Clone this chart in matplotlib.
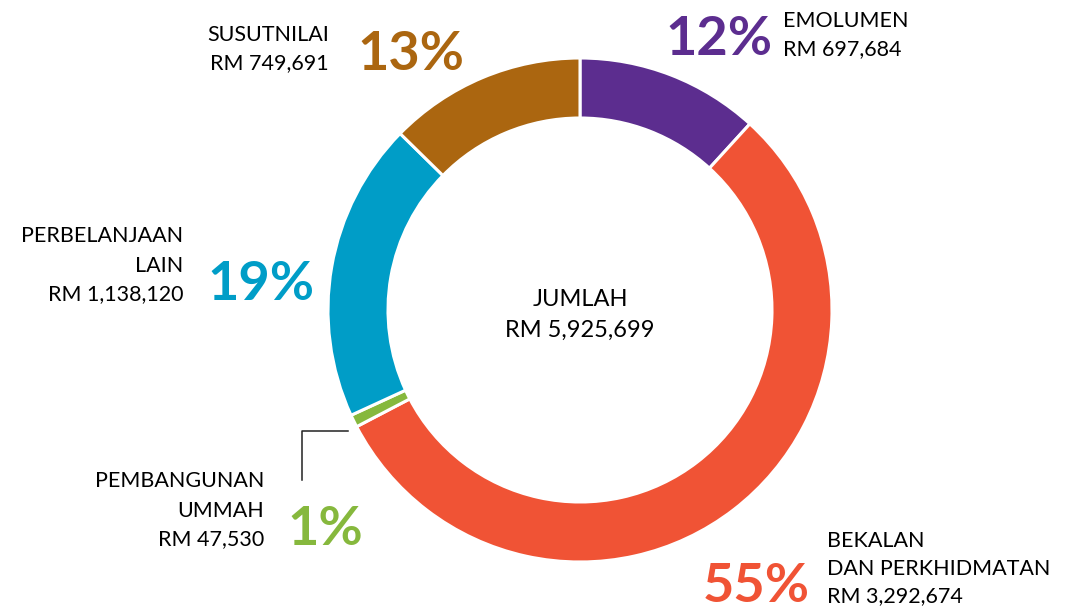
import matplotlib.pyplot as plt

plt.rcParams['font.family'] = ['Lato', 'DejaVu Sans']

names = ['EMOLUMEN', 'BEKALAN\nDAN PERKHIDMATAN', 'PEMBANGUNAN\nUMMAH',
         'PERBELANJAAN\nLAIN', 'SUSUTNILAI']
values = [697684, 3292674, 47530, 1138120, 749691]
pcts = ['12%', '55%', '1%', '19%', '13%']
colors = ['#5C2D8F', '#F05335', '#86B83D', '#009DC7', '#AB6610']
total = sum(values)

W, H = 1065, 611
fig = plt.figure(figsize=(W / 100, H / 100), dpi=100)
ax = fig.add_axes([0, 0, 1, 1])

# work in pixel coordinates, y pointing down
ax.set_xlim(0, W)
ax.set_ylim(H, 0)
ax.set_aspect('equal')

# y is flipped, so startangle -90 / counterclock=True runs clockwise from the top
ax.pie(values, colors=colors, center=(580, 310), radius=252,
       startangle=-90, counterclock=True, frame=True,
       wedgeprops=dict(width=60, edgecolor='white', linewidth=2.2))
ax.set_xlim(0, W)
ax.set_ylim(H, 0)
ax.axis('off')

lab = dict(fontsize=15.5, color='#000000', va='baseline')
big = dict(fontsize=39, fontweight='bold', va='baseline')

# emolumen
ax.text(665, 55, pcts[0], color=colors[0], ha='left', **big)
ax.text(783, 27, names[0], ha='left', **lab)
ax.text(783, 55, 'RM {:,}'.format(values[0]), ha='left', **lab)

# bekalan
ax.text(703, 602, pcts[1], color=colors[1], ha='left', **big)
ax.text(827, 547, 'BEKALAN', ha='left', **lab)
ax.text(827, 575, 'DAN PERKHIDMATAN', ha='left', **lab)
ax.text(827, 602, 'RM {:,}'.format(values[1]), ha='left', **lab)

# pembangunan ummah
ax.text(287, 545, pcts[2], color=colors[2], ha='left', **big)
ax.text(264, 487, 'PEMBANGUNAN', ha='right', **lab)
ax.text(264, 517, 'UMMAH', ha='right', **lab)
ax.text(264, 545, 'RM {:,}'.format(values[2]), ha='right', **lab)
ax.plot([302, 302, 348], [480, 431, 431], color='#222222', lw=1.1)

# perbelanjaan lain
ax.text(207, 300, pcts[3], color=colors[3], ha='left', **big)
ax.text(183, 242, 'PERBELANJAAN', ha='right', **lab)
ax.text(183, 272, 'LAIN', ha='right', **lab)
ax.text(183, 300, 'RM {:,}'.format(values[3]), ha='right', **lab)

# susutnilai
ax.text(357, 70, pcts[4], color=colors[4], ha='left', **big)
ax.text(329, 41, names[4], ha='right', **lab)
ax.text(329, 69, 'RM {:,}'.format(values[4]), ha='right', **lab)

# centre total
ax.text(580, 306, 'JUMLAH', ha='center', va='baseline', fontsize=17, color='#000000')
ax.text(580, 337, 'RM {:,}'.format(total), ha='center', va='baseline', fontsize=17, color='#000000')

plt.savefig('out.png', dpi=100)
